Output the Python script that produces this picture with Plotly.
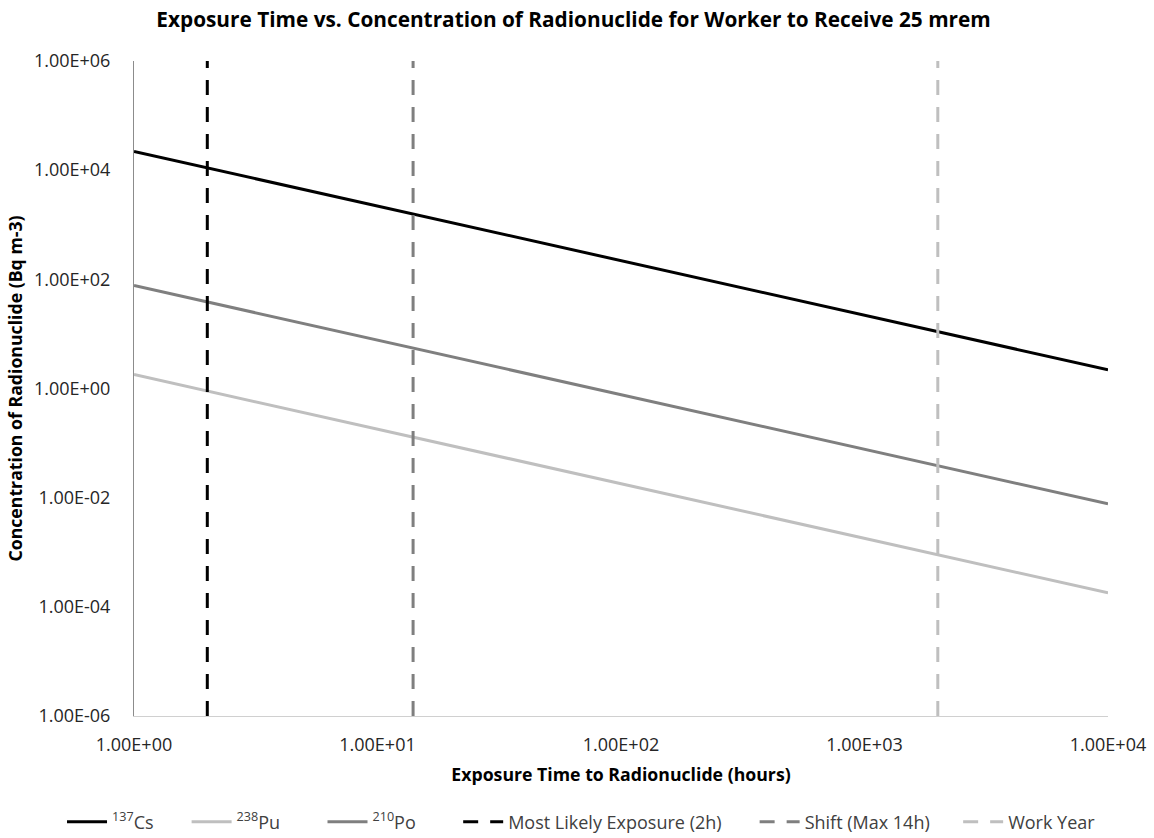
import plotly.graph_objects as go

# Exposure time (hours)
hours = [1, 10, 100, 1000, 10000]

# Air concentration (Bq m-3) that delivers 25 mrem over the exposure time
cs137 = [22000, 2200, 220, 22, 2.2]
pu238 = [1.8, 0.18, 0.018, 0.0018, 0.00018]
po210 = [77, 7.7, 0.77, 0.077, 0.0077]

# Reference exposure durations (hours)
marker_names = ["Most Likely Exposure (2h)", "Shift (Max 14h)", "Work Year"]
marker_hours = [2, 14, 2000]
marker_span = [1e-6, 1e6]

x_ticks = [1, 10, 100, 1000, 10000]
x_ticktext = ["1.00E+00", "1.00E+01", "1.00E+02", "1.00E+03", "1.00E+04"]
y_ticks = [1e-6, 1e-4, 1e-2, 1, 1e2, 1e4, 1e6]
y_ticktext = ["1.00E-06", "1.00E-04", "1.00E-02", "1.00E+00", "1.00E+02", "1.00E+04", "1.00E+06"]

FONT = "Open Sans"
dash = "15px,12px"


def pad(n):
    # trailing space that widens a legend entry
    return "&nbsp;" * n


fig = go.Figure()
fig.add_trace(go.Scatter(x=hours, y=cs137, mode="lines", name="<sup>137</sup>Cs" + pad(6),
                         line=dict(color="#000000", width=3)))
fig.add_trace(go.Scatter(x=hours, y=pu238, mode="lines", name="<sup>238</sup>Pu" + pad(8),
                         line=dict(color="#bfbfbf", width=3)))
fig.add_trace(go.Scatter(x=hours, y=po210, mode="lines", name="<sup>210</sup>Po" + pad(8),
                         line=dict(color="#7f7f7f", width=3)))

marker_colors = ["#000000", "#7f7f7f", "#bfbfbf"]
marker_pads = [6, 5, 0]
for name, h, c, p in zip(marker_names, marker_hours, marker_colors, marker_pads):
    fig.add_trace(go.Scatter(x=[h, h], y=marker_span, mode="lines", name=name + pad(p),
                             line=dict(color=c, width=3, dash=dash)))

fig.update_layout(
    width=1154, height=838,
    margin=dict(l=134, r=46, t=61, b=122, autoexpand=False),
    paper_bgcolor="white", plot_bgcolor="white",
    font=dict(family=FONT, color="#404040", size=18),
    title=dict(text="<b>Exposure Time vs. Concentration of Radionuclide for Worker to Receive 25 mrem</b>",
               x=0.497, xanchor="center", y=0.976, yanchor="middle",
               font=dict(family=FONT, size=20.8, color="#000000")),
    legend=dict(orientation="h", x=-0.0739, xanchor="left", y=-0.162, yanchor="middle",
                font=dict(family=FONT, size=18, color="#404040"),
                itemwidth=40, tracegroupgap=0),
    showlegend=True,
)

fig.update_xaxes(
    type="log", range=[0, 4],
    tickvals=x_ticks, ticktext=x_ticktext,
    showgrid=False, zeroline=False,
    showline=True, linecolor="#d0d0d0", linewidth=1,
    ticks="", ticklabelstandoff=12,
    tickfont=dict(family=FONT, size=18, color="#262626"),
    title=dict(text="<b>Exposure Time to Radionuclide (hours)</b>", standoff=14,
               font=dict(family=FONT, size=17.7, color="#000000")),
)
fig.update_yaxes(
    type="log", range=[-6, 6],
    tickvals=y_ticks, ticktext=y_ticktext,
    showgrid=False, zeroline=False,
    showline=True, linecolor="#8c8c8c", linewidth=1,
    ticks="", ticklabelstandoff=19,
    tickfont=dict(family=FONT, size=18, color="#262626"),
    title=dict(text="<b>Concentration of Radionuclide (Bq m-3)</b>", standoff=6,
               font=dict(family=FONT, size=17.7, color="#000000")),
)

fig.write_html("out.html")
